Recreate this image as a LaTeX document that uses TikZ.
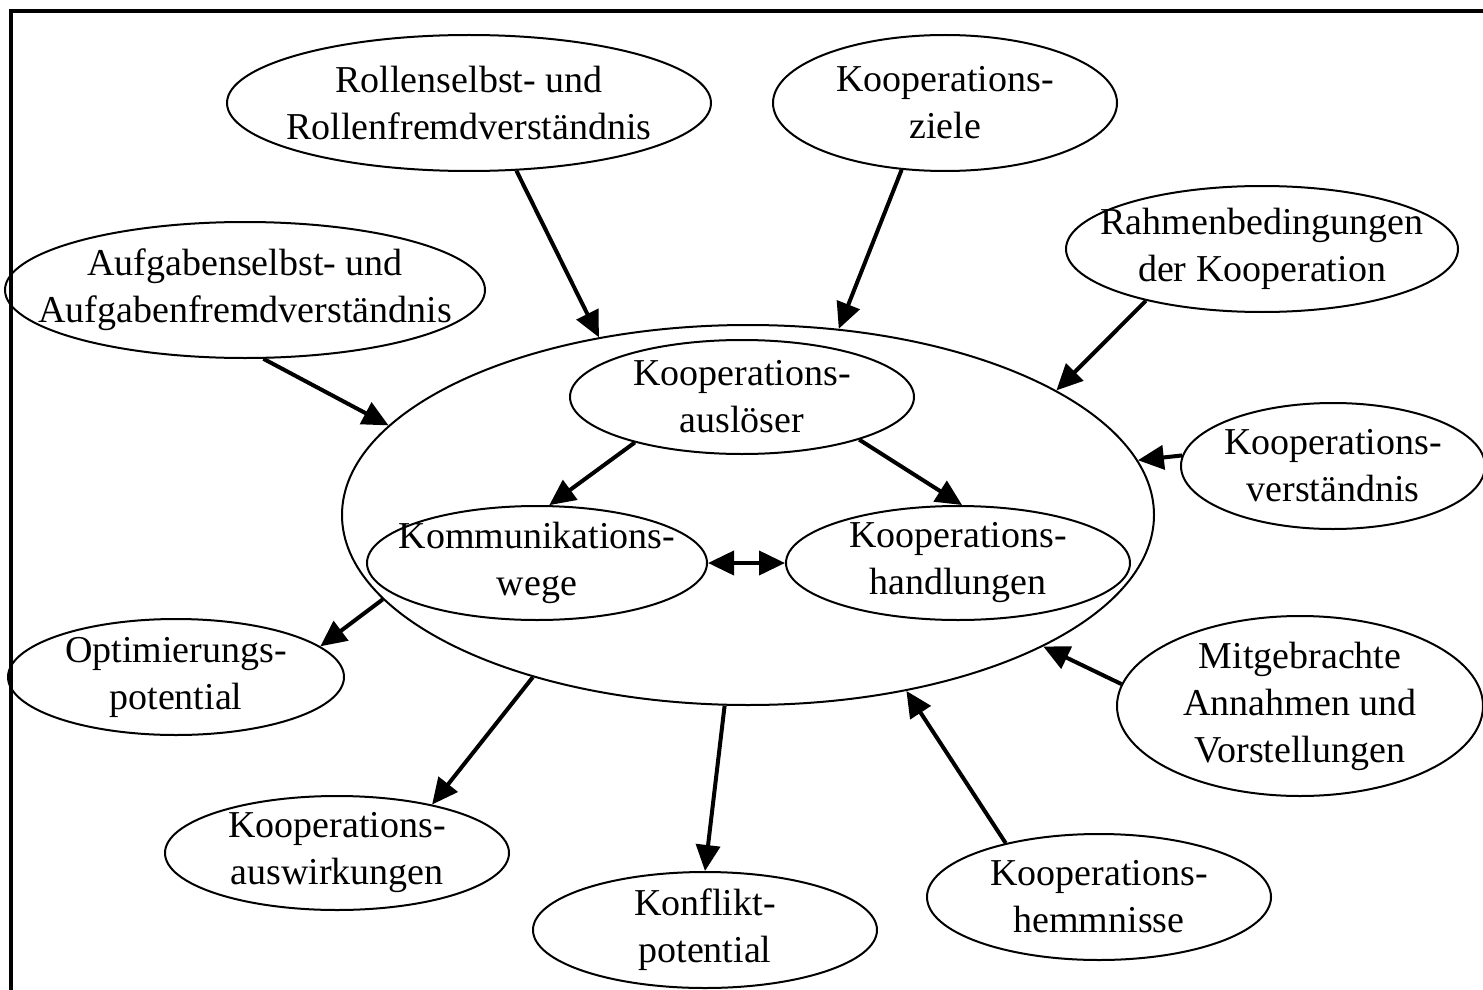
\documentclass[tikz,border=0pt]{standalone}
\usepackage{fontspec}
\setmainfont{Liberation Serif}
\usetikzlibrary{shapes.geometric,arrows.meta}
\begin{document}
\begin{tikzpicture}[x=0.5pt,y=-0.5pt,
 bubble/.style={ellipse,draw,line width=1pt,inner sep=0pt},
 lbl/.style={align=center,inner sep=0pt,font=\fontsize{19}{23.5}\selectfont},
 arr/.style={line width=2pt,-{Triangle[length=13pt,width=12pt]}},
 darr/.style={line width=2pt,{Triangle[length=13pt,width=12pt]}-{Triangle[length=13pt,width=12pt]}}]
\useasboundingbox (0,0) rectangle (1483,990);
\draw[line width=2pt] (11,990) -- (11,11) -- (1483,11);

\node[bubble,minimum width=406pt,minimum height=190pt] (big) at (748,515) {};
\node[bubble,minimum width=242pt,minimum height=68pt,label={[lbl]center:{Rollenselbst- und\\Rollenfremdverständnis}}] (r1) at (469,103) {};
\node[bubble,minimum width=172pt,minimum height=68pt,label={[lbl]center:{Kooperations-\\ziele}}] (zi) at (945,103) {};
\node[bubble,minimum width=196pt,minimum height=63pt,label={[lbl]center:{Rahmenbedingungen\\der Kooperation}}] (ra) at (1262,249) {};
\node[bubble,minimum width=240pt,minimum height=68pt,label={[lbl]center:{Aufgabenselbst- und\\Aufgabenfremdverständnis}}] (au) at (245,290) {};
\node[bubble,minimum width=172pt,minimum height=57pt,label={[lbl]center:{Kooperations-\\auslöser}}] (al) at (742,397) {};
\node[bubble,minimum width=170pt,minimum height=57pt,label={[lbl]center:{Kommunikations-\\wege}}] (kw) at (537,563) {};
\node[bubble,minimum width=172pt,minimum height=57pt,label={[lbl]center:{Kooperations-\\handlungen}}] (kh) at (958,563) {};
\node[bubble,minimum width=152pt,minimum height=63pt,label={[lbl]center:{Kooperations-\\verständnis}}] (kv) at (1333,466) {};
\node[bubble,minimum width=168pt,minimum height=58pt,label={[lbl]center:{Optimierungs-\\potential}}] (op) at (176,677) {};
\node[bubble,minimum width=183pt,minimum height=90pt,label={[lbl]center:{Mitgebrachte\\Annahmen und\\Vorstellungen}}] (mi) at (1300,706) {};
\node[bubble,minimum width=172pt,minimum height=57pt,label={[lbl]center:{Kooperations-\\auswirkungen}}] (aw) at (337,853) {};
\node[bubble,minimum width=172pt,minimum height=58pt,label={[lbl]center:{Konflikt-\\potential}}] (ko) at (705,930) {};
\node[bubble,minimum width=172pt,minimum height=63pt,label={[lbl]center:{Kooperations-\\hemmnisse}}] (he) at (1099,897) {};

\draw[arr] (r1.-55) -- (big.130);
\draw[arr] (zi.-123) -- (big.64);
\draw[arr] (ra.-156) -- (big.22.5);
\draw[arr] (au.-75) -- (big.166);
\draw[arr] (kv.176) -- (big.8.4);
\draw[arr] (big.193) -- (op.12.7);
\draw[arr] (mi.173.7) -- (big.-24);
\draw[arr] (big.217.6) -- (aw.27.5);
\draw[arr] (big.-97.7) -- (ko.90);
\draw[arr] (he.150.6) -- (big.-48.7);
\draw[arr] (al.-157) -- (kw.78);
\draw[arr] (al.-20.5) -- (kh.86);
\draw[darr] (kw.east) -- (kh.west);
\end{tikzpicture}
\end{document}
